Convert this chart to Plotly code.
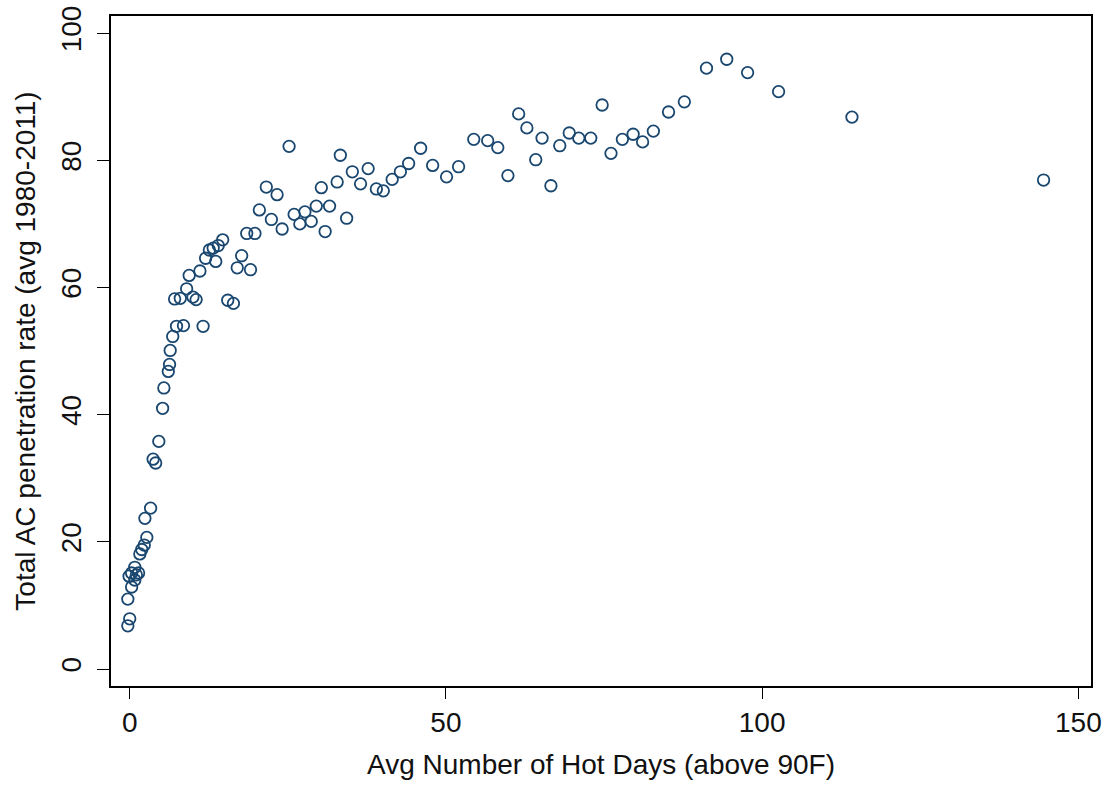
import plotly.graph_objects as go

hot_days = [
    -0.3, 0.0, -0.3, 0.3, -0.1, 0.3, 0.8, 1.05, 1.4, 0.8,
    1.6, 1.9, 2.3, 2.7, 2.4, 3.3, 3.7, 4.1, 4.6, 5.2,
    5.4, 6.1, 6.3, 6.4, 6.8, 7.4, 8.5, 11.6, 7.1, 8.0,
    9.0, 10.0, 10.5, 15.5, 16.4, 9.4, 11.1, 12.0, 12.6, 13.2,
    14.0, 14.7, 13.6, 17.7, 17.0, 19.1, 18.5, 19.8, 20.5, 21.6,
    22.4, 23.3, 24.1, 25.2, 26.0, 26.9, 27.7, 28.7, 29.5, 30.3,
    30.9, 31.6, 32.8, 33.3, 34.3, 35.2, 36.5, 37.7, 39.0, 40.1,
    41.5, 42.8, 44.1, 46.0, 47.9, 50.1, 52.0, 54.4, 56.6, 58.2,
    59.8, 61.5, 62.8, 64.2, 65.2, 66.6, 68.0, 69.5, 71.0, 72.9,
    74.7, 76.1, 77.9, 79.6, 81.1, 82.8, 85.2, 87.7, 91.2, 94.4,
    97.7, 102.6, 114.2, 144.5,
]
ac_rate = [
    6.8, 7.9, 11.0, 12.9, 14.6, 15.1, 16.0, 14.8, 15.1, 14.0,
    18.1, 18.8, 19.5, 20.7, 23.7, 25.3, 33.0, 32.4, 35.8, 41.0,
    44.2, 46.8, 47.9, 50.1, 52.3, 53.9, 54.0, 53.9, 58.2, 58.3,
    59.8, 58.5, 58.1, 58.0, 57.5, 61.9, 62.6, 64.6, 65.9, 66.2,
    66.6, 67.5, 64.1, 65.0, 63.1, 62.8, 68.5, 68.5, 72.2, 75.8,
    70.7, 74.6, 69.2, 82.2, 71.5, 70.0, 71.9, 70.4, 72.8, 75.7,
    68.8, 72.8, 76.6, 80.8, 70.9, 78.2, 76.3, 78.7, 75.5, 75.2,
    77.0, 78.2, 79.5, 81.9, 79.2, 77.4, 79.0, 83.3, 83.1, 82.0,
    77.6, 87.3, 85.1, 80.1, 83.5, 76.0, 82.3, 84.3, 83.5, 83.5,
    88.7, 81.1, 83.3, 84.1, 82.9, 84.6, 87.6, 89.2, 94.5, 95.9,
    93.8, 90.8, 86.8, 76.9,
]

x_ticks = [0, 50, 100, 150]
y_ticks = [0, 20, 40, 60, 80, 100]
x_title = "Avg Number of Hot Days (above 90F)"
y_title = "Total AC penetration rate (avg 1980-2011)"

font = "Liberation Sans, Arial, sans-serif"
ink = "#111111"

fig = go.Figure(
    go.Scatter(
        x=hot_days,
        y=ac_rate,
        mode="markers",
        marker=dict(
            symbol="circle-open",
            size=11.5,
            color="#1a476f",
            line=dict(width=1.8, color="#1a476f"),
        ),
        hoverinfo="x+y",
    )
)

fig.update_layout(
    width=1111,
    height=786,
    margin=dict(l=111, r=20, t=16, b=100),
    paper_bgcolor="white",
    plot_bgcolor="white",
    showlegend=False,
    font=dict(family=font, size=28, color=ink),
)

fig.update_xaxes(
    range=[-2.96, 152.0],
    tickvals=x_ticks,
    ticktext=[str(v) for v in x_ticks],
    ticks="outside",
    ticklen=11,
    tickwidth=1.3,
    tickcolor="#000",
    showline=True,
    linecolor="#000",
    linewidth=1.5,
    mirror=True,
    showgrid=False,
    zeroline=False,
    automargin=False,
    tickfont=dict(size=28, family=font, color=ink),
    ticklabelstandoff=0,
    title=dict(text=x_title, font=dict(size=28, family=font, color=ink), standoff=17),
)

fig.update_yaxes(
    range=[-2.67, 102.7],
    tickvals=y_ticks,
    ticktext=[str(v) for v in y_ticks],
    ticks="outside",
    ticklen=12,
    tickwidth=1.3,
    tickcolor="#000",
    showline=True,
    linecolor="#000",
    linewidth=1.5,
    mirror=True,
    showgrid=False,
    zeroline=False,
    automargin=False,
    tickangle=-90,
    tickfont=dict(size=28, family=font, color=ink),
    ticklabelstandoff=5,
    title=dict(text=y_title, font=dict(size=28, family=font, color=ink), standoff=12),
)

fig.write_html("out.html")
